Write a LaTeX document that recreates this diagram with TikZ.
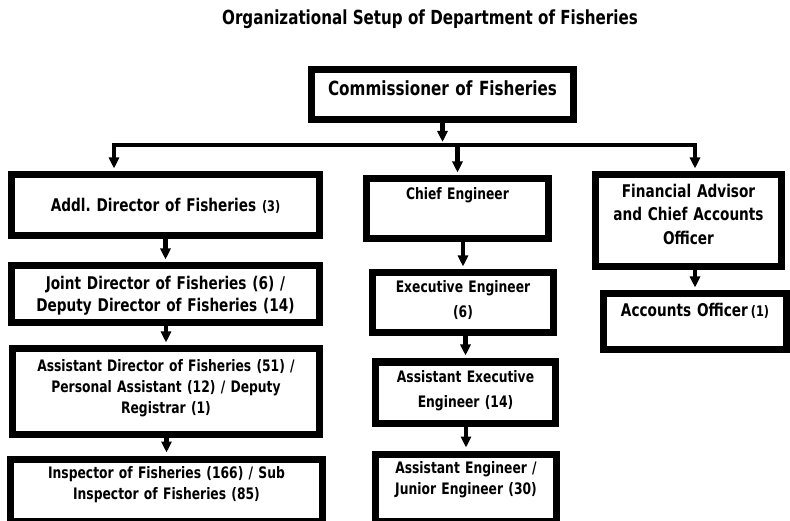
\documentclass[tikz,border=0pt]{standalone}
\usepackage{fontspec}
\setmainfont{DejaVu Sans}[FakeStretch=0.78]
\usetikzlibrary{arrows.meta}

\begin{document}
\begin{tikzpicture}[x=1pt,y=-1pt,>={Triangle[width=10pt,length=11pt]},shorten >=3pt]
        \tikzstyle{post}=[draw,line width=7pt,anchor=north,align=center,inner sep=0pt,font=\bfseries\fontsize{17.5}{25}\selectfont]
        \tikzstyle{small}=[font=\bfseries\fontsize{15.8}{21}\selectfont]
        \tikzstyle{link}=[draw,line width=4.5pt,->]
        \useasboundingbox (0,0) rectangle (790,521);
        \node [font=\bfseries\fontsize{19.4}{21}\selectfont,anchor=base] (title) at (430,25) {Organizational Setup of Department of Fisheries};
       \begin{scope}
         \node [post,font=\bfseries\fontsize{19.5}{24}\selectfont,text width=262pt,text height=25.5pt,text depth=24.5pt] (comm) at (442.5,66.5) {Commissioner of Fisheries};
         % left column
         \node [post,text width=308pt,text height=36.5pt,text depth=24.5pt] (addl) at (165.5,171.5) {Addl.\ Director of Fisheries {\fontsize{14.5}{14.5}\selectfont(3)}};
         \node [post,font=\bfseries\fontsize{17.5}{22}\selectfont,text width=308pt,text height=23.5pt,text depth=33.5pt] (joint) at (165.5,262.5) {Joint Director of Fisheries (6) /\\Deputy Director of Fisheries (14)};
         \node [post,small,text width=307pt,text height=22.5pt,text depth=62.5pt] (adf) at (166,345.5) {Assistant Director of Fisheries (51) /\\Personal Assistant (12) / Deputy\\Registrar (1)};
         \node [post,small,text width=312pt,text height=19.5pt,text depth=42.5pt] (insp) at (166.5,455.5) {Inspector of Fisheries (166) / Sub\\Inspector of Fisheries (85)};
         % middle column
         \node [post,small,text width=182pt,text height=20.5pt,text depth=39.5pt] (chief) at (457.5,175.5) {Chief Engineer};
         \node [post,small,text width=181pt,text height=19.5pt,text depth=40.5pt] (exec) at (463,269.5) {Executive Engineer\\[4pt](6)};
         \node [post,small,text width=180pt,text height=20.5pt,text depth=40.5pt] (aee) at (465.5,358.5) {Assistant Executive\\[4pt]Engineer (14)};
         \node [post,small,text width=181pt,text height=19.5pt,text depth=47.5pt] (ae) at (466,450.5) {Assistant Engineer /\\Junior Engineer (30)};
         % right column
         \node [post,font=\bfseries\fontsize{17.5}{23.5}\selectfont,text width=186pt,text height=22.5pt,text depth=69.5pt] (fin) at (688.5,171.5) {Financial Advisor\\and Chief Accounts\\Officer};
         \node [post,text width=183pt,text height=22.5pt,text depth=33.5pt] (acc) at (695,290.5) {Accounts Officer\,{\fontsize{14.5}{14.5}\selectfont(1)}};

         \coordinate (busL) at (114,145);
         \coordinate (busR) at (695,145);
         \coordinate (busM) at (chief.north |- busL);

         \path[link] (comm.south) -- (comm.south |- busL);
         \path[link] (busM) -| (busL |- addl.north);
         \path[link] (busM) -| (busR |- fin.north);
         \path[link] (busM) -- (chief.north);

         \path[link] (joint.north |- addl.south) -- (joint.north);
         \path[link] (adf.north |- joint.south) -- (adf.north);
         \path[link] (insp.north |- adf.south) -- (insp.north);
         \path[link] (exec.north |- chief.south) -- (exec.north);
         \path[link] (aee.north |- exec.south) -- (aee.north);
         \path[link] (ae.north |- aee.south) -- (ae.north);
         \path[link] (acc.north |- fin.south) -- (acc.north);
        \end{scope}
      \end{tikzpicture}
\end{document}
